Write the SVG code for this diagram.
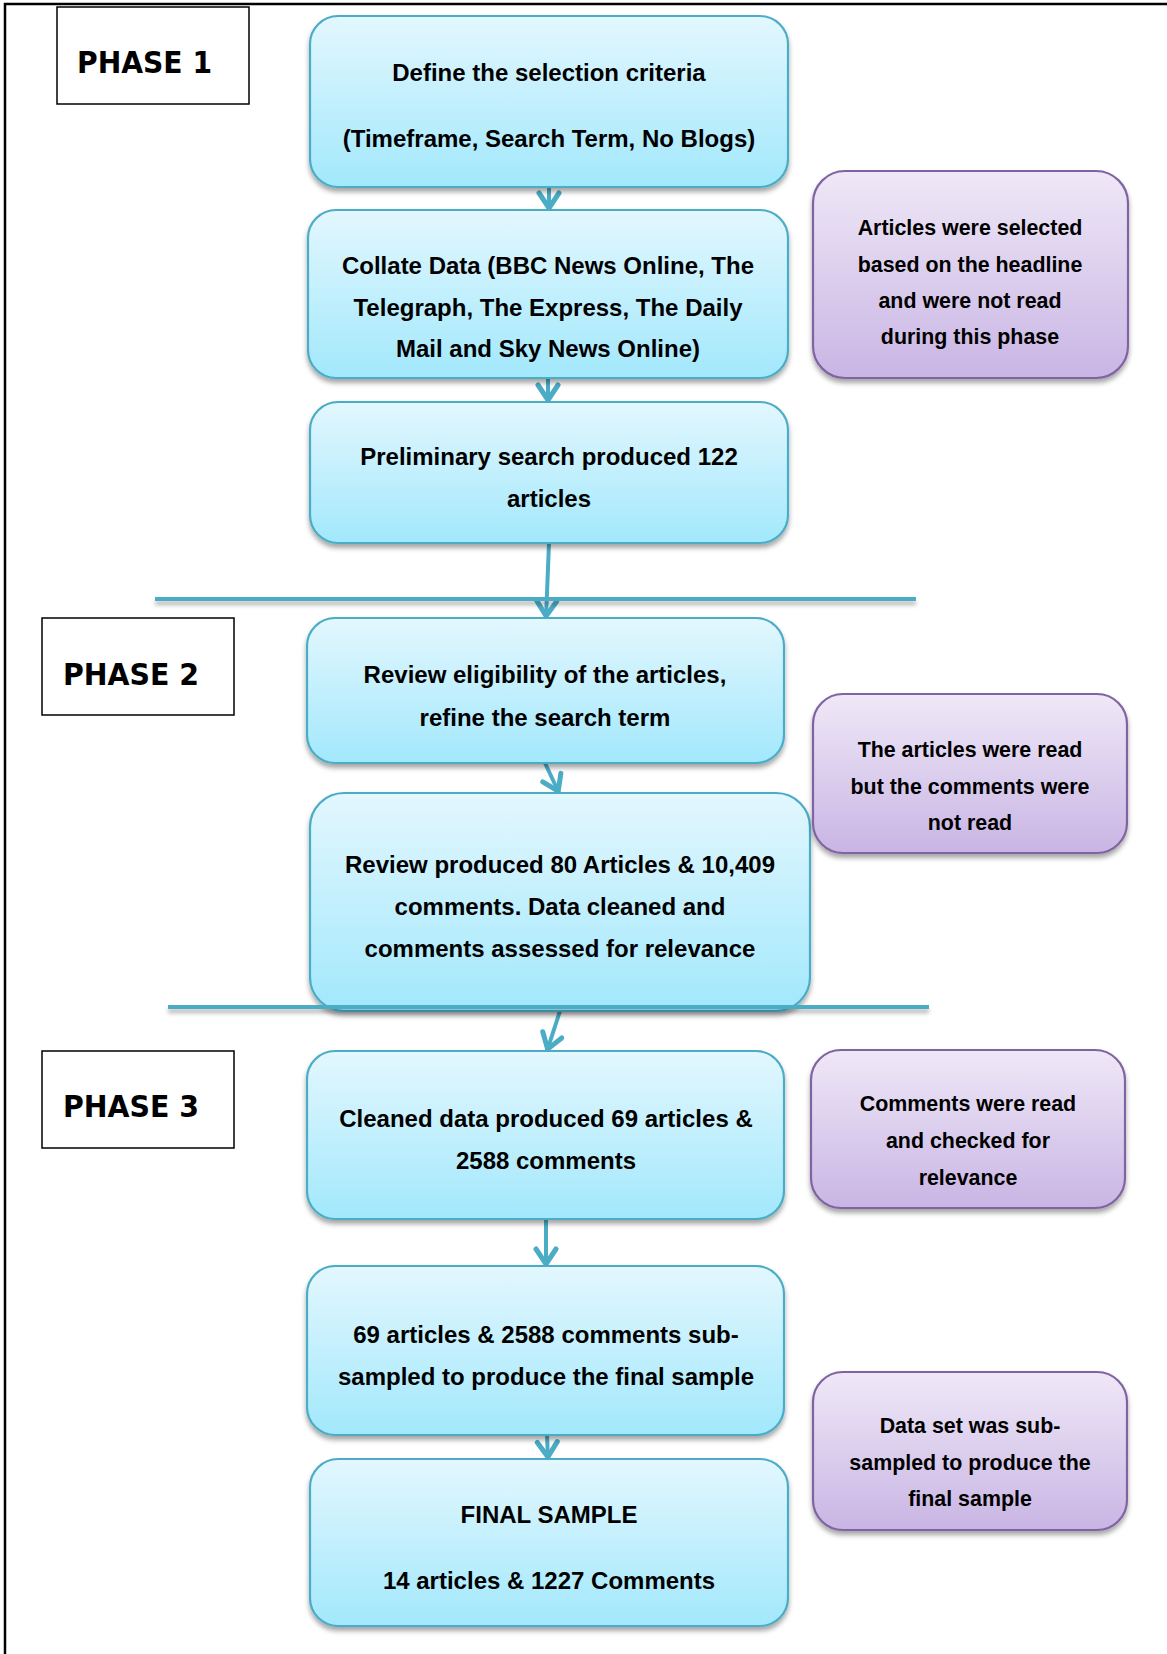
<svg xmlns="http://www.w3.org/2000/svg" width="1167" height="1654" viewBox="0 0 1167 1654">
<defs>
<linearGradient id="gBlue" x1="0" y1="0" x2="0" y2="1">
<stop offset="0" stop-color="#e3f7fe"/>
<stop offset="1" stop-color="#a2e8fc"/>
</linearGradient>
<linearGradient id="gPurple" x1="0" y1="0" x2="0" y2="1">
<stop offset="0" stop-color="#efe8f7"/>
<stop offset="1" stop-color="#c9b5e4"/>
</linearGradient>
<filter id="sh" x="-10%" y="-10%" width="120%" height="130%">
<feDropShadow dx="0" dy="4" stdDeviation="2.5" flood-color="#000" flood-opacity="0.35"/>
</filter>
<filter id="shl" filterUnits="userSpaceOnUse" x="0" y="0" width="1167" height="1654">
<feDropShadow dx="0" dy="4" stdDeviation="2" flood-color="#000" flood-opacity="0.3"/>
</filter>
<marker id="arr" markerUnits="userSpaceOnUse" markerWidth="34" markerHeight="34" viewBox="-26 -17 34 34" refX="0" refY="0" orient="auto">
<path d="M-17,-10 L-2,0 L-17,10" fill="none" stroke="#4bacc6" stroke-width="5" stroke-linecap="round" stroke-linejoin="round"/>
</marker>
</defs>
<style>
.blue{fill:url(#gBlue);stroke:#4bacc6;stroke-width:2.2;filter:url(#sh)}
.purple{fill:url(#gPurple);stroke:#8064a2;stroke-width:2.2;filter:url(#sh)}
.phase{fill:#fff;stroke:#000;stroke-width:1.5}
.bt{font-family:"Liberation Sans",Arial,sans-serif;font-weight:bold;font-size:24px;fill:#000;text-anchor:middle}
.pt{font-family:"Liberation Sans",Arial,sans-serif;font-weight:bold;font-size:21.4px;fill:#000;text-anchor:middle}
.ph{font-family:"DejaVu Sans",Verdana,sans-serif;font-weight:bold;font-size:31px;fill:#000}
.con{fill:none;stroke:#4bacc6;stroke-width:4;marker-end:url(#arr)}
.sep{fill:none;stroke:#4bacc6;stroke-width:4;filter:url(#shl)}
</style>
<rect x="0" y="0" width="1167" height="1654" fill="#fff"/>
<g id="page-border" fill="none" stroke="#000" stroke-width="2.5">
<path d="M5,1654 L5,4 L1167,4"/>
</g>

<g id="phase1"><rect class="phase" x="57" y="7" width="192" height="97"/><text class="ph" x="77" y="73" textLength="135" lengthAdjust="spacingAndGlyphs">PHASE 1</text></g>
<g id="phase2"><rect class="phase" x="42" y="618" width="192" height="97"/><text class="ph" x="63" y="685" textLength="136" lengthAdjust="spacingAndGlyphs">PHASE 2</text></g>
<g id="phase3"><rect class="phase" x="42" y="1051" width="192" height="97"/><text class="ph" x="63" y="1117" textLength="136" lengthAdjust="spacingAndGlyphs">PHASE 3</text></g>

<g id="connectors">
<path class="con" d="M549,187 L549,210"/>
<path class="con" d="M548,378 L548,402"/>
<path class="con" d="M549,543 L546,618"/>
<path class="con" d="M545,763 L559,793"/>
<path class="con" d="M560,1011 L547,1051"/>
<path class="con" d="M546,1219 L546,1266"/>
<path class="con" d="M547,1435 L548,1459"/>
</g>

<g id="n1"><rect class="blue" x="310" y="16" width="478" height="171" rx="28"/><text class="bt" x="549" y="81">Define the selection criteria</text><text class="bt" x="549" y="147">(Timeframe, Search Term, No Blogs)</text></g>
<g id="n2"><rect class="blue" x="308" y="210" width="480" height="168" rx="28"/><text class="bt" x="548" y="274">Collate Data (BBC News Online, The</text><text class="bt" x="548" y="316">Telegraph, The Express, The Daily</text><text class="bt" x="548" y="357">Mail and Sky News Online)</text></g>
<g id="n3"><rect class="blue" x="310" y="402" width="478" height="141" rx="28"/><text class="bt" x="549" y="465">Preliminary search produced 122</text><text class="bt" x="549" y="507">articles</text></g>
<g id="n4"><rect class="blue" x="307" y="618" width="477" height="145" rx="28"/><text class="bt" x="545" y="683">Review eligibility of the articles,</text><text class="bt" x="545" y="726">refine the search term</text></g>
<g id="n5"><rect class="blue" x="310" y="793" width="500" height="218" rx="34"/><text class="bt" x="560" y="873">Review produced 80 Articles &amp; 10,409</text><text class="bt" x="560" y="915">comments. Data cleaned and</text><text class="bt" x="560" y="957">comments assessed for relevance</text></g>
<g id="n6"><rect class="blue" x="307" y="1051" width="477" height="168" rx="28"/><text class="bt" x="546" y="1127">Cleaned data produced 69 articles &amp;</text><text class="bt" x="546" y="1169">2588 comments</text></g>
<g id="n7"><rect class="blue" x="307" y="1266" width="477" height="169" rx="28"/><text class="bt" x="546" y="1343">69 articles &amp; 2588 comments sub-</text><text class="bt" x="546" y="1385">sampled to produce the final sample</text></g>
<g id="n8"><rect class="blue" x="310" y="1459" width="478" height="167" rx="28"/><text class="bt" x="549" y="1523">FINAL SAMPLE</text><text class="bt" x="549" y="1589">14 articles &amp; 1227 Comments</text></g>

<g id="p1"><rect class="purple" x="813" y="171" width="315" height="207" rx="32"/><text class="pt" x="970" y="235">Articles were selected</text><text class="pt" x="970" y="272">based on the headline</text><text class="pt" x="970" y="308">and were not read</text><text class="pt" x="970" y="344">during this phase</text></g>
<g id="p2"><rect class="purple" x="813" y="694" width="314" height="159" rx="30"/><text class="pt" x="970" y="757">The articles were read</text><text class="pt" x="970" y="794">but the comments were</text><text class="pt" x="970" y="830">not read</text></g>
<g id="p3"><rect class="purple" x="811" y="1050" width="314" height="158" rx="30"/><text class="pt" x="968" y="1111">Comments were read</text><text class="pt" x="968" y="1148">and checked for</text><text class="pt" x="968" y="1185">relevance</text></g>
<g id="p4"><rect class="purple" x="813" y="1372" width="314" height="158" rx="30"/><text class="pt" x="970" y="1433">Data set was sub-</text><text class="pt" x="970" y="1470">sampled to produce the</text><text class="pt" x="970" y="1506">final sample</text></g>

<g id="separators">
<path class="sep" d="M155,599 L916,599"/>
<path class="sep" d="M168,1007 L929,1007"/>
</g>
</svg>
